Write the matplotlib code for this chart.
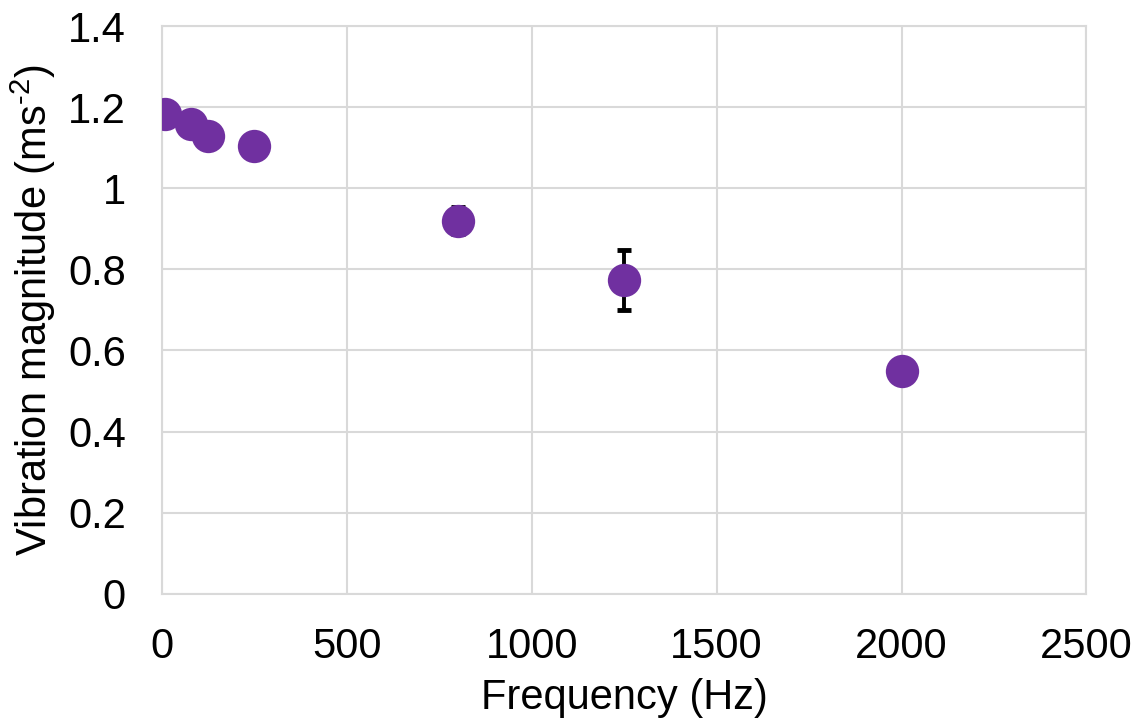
import matplotlib
matplotlib.use("Agg")
import matplotlib.pyplot as plt

plt.rcParams['font.family'] = ['Liberation Sans', 'DejaVu Sans']
plt.rcParams['mathtext.fontset'] = 'custom'
plt.rcParams['mathtext.rm'] = 'Liberation Sans'
plt.rcParams['mathtext.it'] = 'Liberation Sans'

# data
freq = [8, 80, 125, 250, 800, 1250, 2000]
magnitude = [1.182, 1.158, 1.129, 1.105, 0.920, 0.774, 0.550]
err = [0.0, 0.0, 0.0, 0.0, 0.034, 0.074, 0.0]

fig = plt.figure(figsize=(11.4, 7.24), dpi=100)
ax = fig.add_axes([0.142, 0.180, 0.811, 0.784])

ax.errorbar(freq, magnitude, yerr=err, fmt='none', ecolor='black',
            elinewidth=2.8, capsize=5, capthick=3.5, zorder=2)
ax.plot(freq, magnitude, 'o', color='#7030A0', markersize=24,
        markeredgewidth=0, zorder=3)

ax.set_xlim(0, 2500)
ax.set_ylim(0, 1.4)
ax.set_xticks([0, 500, 1000, 1500, 2000, 2500])
ax.set_yticks([0, 0.2, 0.4, 0.6, 0.8, 1, 1.2, 1.4])
ax.set_yticklabels(['0', '0.2', '0.4', '0.6', '0.8', '1', '1.2', '1.4'])
ax.grid(True, color='#D9D9D9', linewidth=1.5)
ax.set_axisbelow(True)
for s in ax.spines.values():
    s.set_color('#D9D9D9')
    s.set_linewidth(1.5)
ax.tick_params(length=0, labelsize=30)
ax.tick_params(axis='y', pad=26)
ax.tick_params(axis='x', pad=24)

ax.set_xlabel('Frequency (Hz)', fontsize=30, labelpad=8)
ax.set_ylabel(r'Vibration magnitude (ms$^{\text{-2}}$)', fontsize=30, labelpad=7)

fig.savefig('out.png', dpi=100)
